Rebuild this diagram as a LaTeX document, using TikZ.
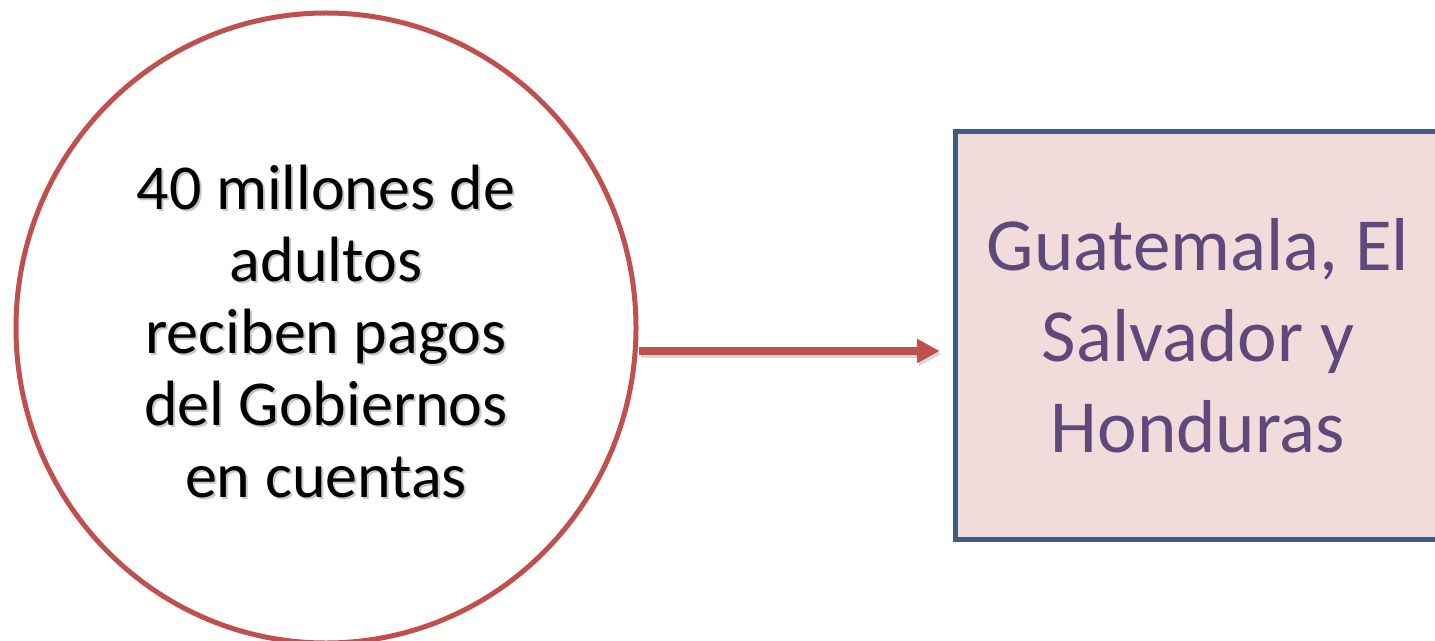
\documentclass[tikz,border=0pt]{standalone}
\usepackage{fontspec}
\setmainfont{Carlito}
\usetikzlibrary{shapes.geometric,arrows.meta}
\definecolor{cred}{HTML}{C0504D}
\definecolor{bblue}{HTML}{385D8A}
\definecolor{bfill}{HTML}{F2DCDB}
\definecolor{tpurple}{HTML}{5F497A}
\tikzset{
  bubble/.style={ellipse, draw=cred, line width=5bp, minimum width=620bp, minimum height=630bp, inner sep=0pt},
  panel/.style={rectangle, fill=bfill, minimum width=479bp, minimum height=407bp, inner sep=0pt},
  panelborder/.style={draw=bblue, line width=5bp, line join=miter},
  ctext/.style={align=center, font=\fontsize{64bp}{72bp}\selectfont, inner sep=0pt},
  btext/.style={align=center, font=\fontsize{75bp}{91bp}\selectfont, text=tpurple, inner sep=0pt},
  link/.style={draw=cred, line width=8bp, -{Triangle[length=23bp,width=23bp]}},
  linkshadow/.style={draw=black!15, line width=8bp, -{Triangle[length=23bp,width=23bp]}}
}
\begin{document}
\begin{tikzpicture}[x=1bp,y=-1bp]
\fill[white] (0,0) rectangle (1435,641);
% shapes
\node[bubble] (c) at (326,328) {};
\node[panel] (b) at (1195.5,335.5) {};
\draw[panelborder] ([xshift=5bp]b.north east) -- (b.north west) -- (b.south west) -- ([xshift=5bp]b.south east);
% texts
\node[ctext, text=black!22] (ctshadow) at (328,334) {40 millones de\\adultos\\reciben pagos\\del Gobiernos\\en cuentas};
\node[ctext] (ct) at (326,332) {40 millones de\\adultos\\reciben pagos\\del Gobiernos\\en cuentas};
\node[btext] (bt) at (1198,335.5) {Guatemala, El\\Salvador y\\Honduras};
% connector
\coordinate (a1) at ([yshift=-23bp]c.east);
\coordinate (a2) at ([xshift=-16bp]b.west |- a1);
\draw[linkshadow] ([shift={(2bp,-3bp)}]a1) -- ([shift={(2bp,-3bp)}]a2);
\draw[link] (a1) -- (a2);
\pgfresetboundingbox
\useasboundingbox (0,0) rectangle (1435,641);
\end{tikzpicture}
\end{document}
